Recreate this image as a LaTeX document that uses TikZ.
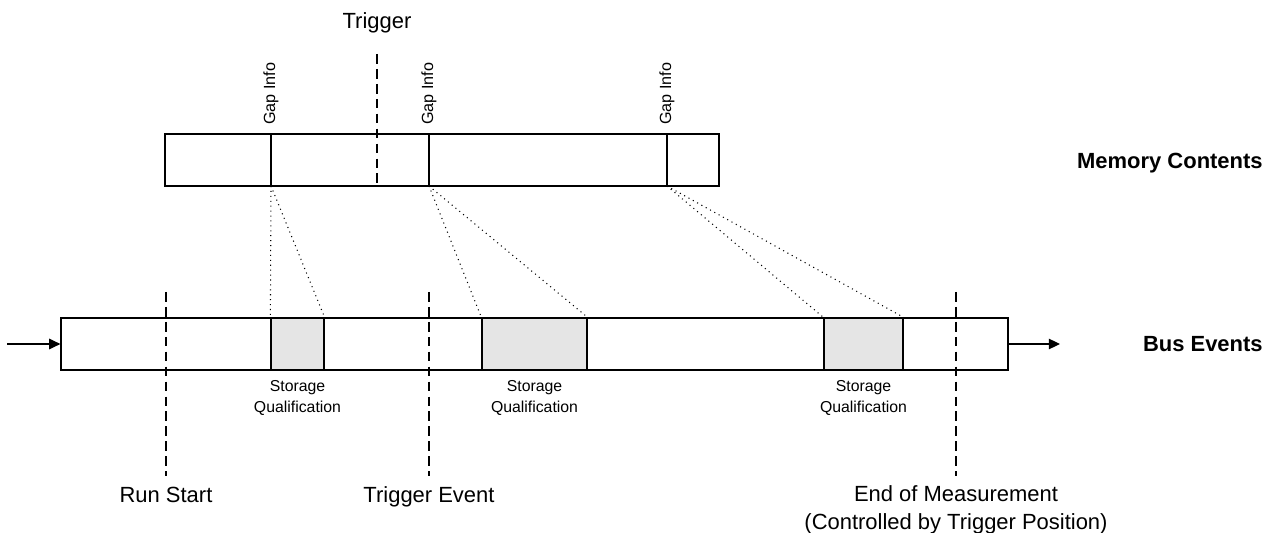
\documentclass[tikz,border=0pt]{standalone}
\usepackage{fontspec}
\setmainfont{Liberation Sans}
\usetikzlibrary{arrows.meta,positioning,fit}

\begin{document}
\begin{tikzpicture}[x=0.02cm,y=-0.02cm,
  cell/.style={draw=black,inner sep=0pt,line width=.7pt},
  qualcell/.style={cell,fill=black!10},
  marker/.style={dash pattern=on 5.5pt off 3pt,line width=.7pt},
  link/.style={dash pattern=on .6pt off 2.2pt,line width=.6pt},
  flow/.style={-{Triangle[length=6.4pt,width=6pt]},line width=.7pt},
  biglabel/.style={font=\fontsize{12.5}{15.8}\selectfont,inner sep=0pt,align=center},
  smalllabel/.style={font=\fontsize{9}{11.9}\selectfont,inner sep=0pt,align=center},
  gaplabel/.style={font=\fontsize{9.2}{11}\selectfont,inner sep=0pt,rotate=90,anchor=west},
  sidelabel/.style={font=\fontsize{12.5}{15}\selectfont\bfseries,inner sep=0pt,anchor=base east}]
\useasboundingbox (0,0) rectangle (1267,533);
% memory contents
\node[cell,fit={(165,134) (719,186)}] (mem) {};
\coordinate (g1) at (271,186);
\coordinate (g2) at (429,186);
\coordinate (g3) at (667,186);
\draw[line width=.7pt] (g1) -- (g1 |- mem.north);
\draw[line width=.7pt] (g2) -- (g2 |- mem.north);
\draw[line width=.7pt] (g3) -- (g3 |- mem.north);
\node[gaplabel] (gap1) at (271,125) {Gap Info};
\node[gaplabel] (gap2) at (429,125) {Gap Info};
\node[gaplabel] (gap3) at (667,125) {Gap Info};
\node[biglabel,anchor=base] (trig) at (377,29) {Trigger};
\coordinate (t0) at (377,54);
\draw[marker] (t0) -- (t0 |- mem.south);
\node[sidelabel] (memlbl) at (1263,169) {Memory Contents};
% bus events
\node[cell,fit={(61,318) (1008,370)}] (bus) {};
\node[qualcell,fit={(271,318) (324,370)}] (q1) {};
\node[qualcell,fit={(482,318) (587,370)}] (q2) {};
\node[qualcell,fit={(824,318) (903,370)}] (q3) {};
\coordinate (in) at (7,344);
\coordinate (out) at (1060,344);
\draw[flow] (in) -- (bus.west);
\draw[flow] (bus.east) -- (out);
\node[sidelabel] (buslbl) at (1263,352) {Bus Events};
\node[smalllabel,below=5.6pt of q1] (sq1) {Storage\\Qualification};
\node[smalllabel,below=5.6pt of q2] (sq2) {Storage\\Qualification};
\node[smalllabel,below=5.6pt of q3] (sq3) {Storage\\Qualification};
% gap links
\draw[link] (g1) -- (q1.north west);
\draw[link] (g1) -- (q1.north east);
\draw[link] (g2) -- (q2.north west);
\draw[link] (g2) -- (q2.north east);
\draw[link] (g3) -- (q3.north west);
\draw[link] (g3) -- (q3.north east);
% event markers
\coordinate (rs0) at (166,292);
\coordinate (rs1) at (166,476);
\coordinate (te0) at (429,292);
\coordinate (te1) at (429,476);
\coordinate (em0) at (956,292);
\coordinate (em1) at (956,476);
\draw[marker] (rs0) -- (rs1);
\draw[marker] (te0) -- (te1);
\draw[marker] (em0) -- (em1);
\node[biglabel,anchor=base] (runstart) at (166,502) {Run Start};
\node[biglabel,anchor=base] (trigev) at (429,502) {Trigger Event};
\node[biglabel,anchor=north] (endmeas) at (956,485.5) {End of Measurement\\(Controlled by Trigger Position)};
\end{tikzpicture}
\end{document}
